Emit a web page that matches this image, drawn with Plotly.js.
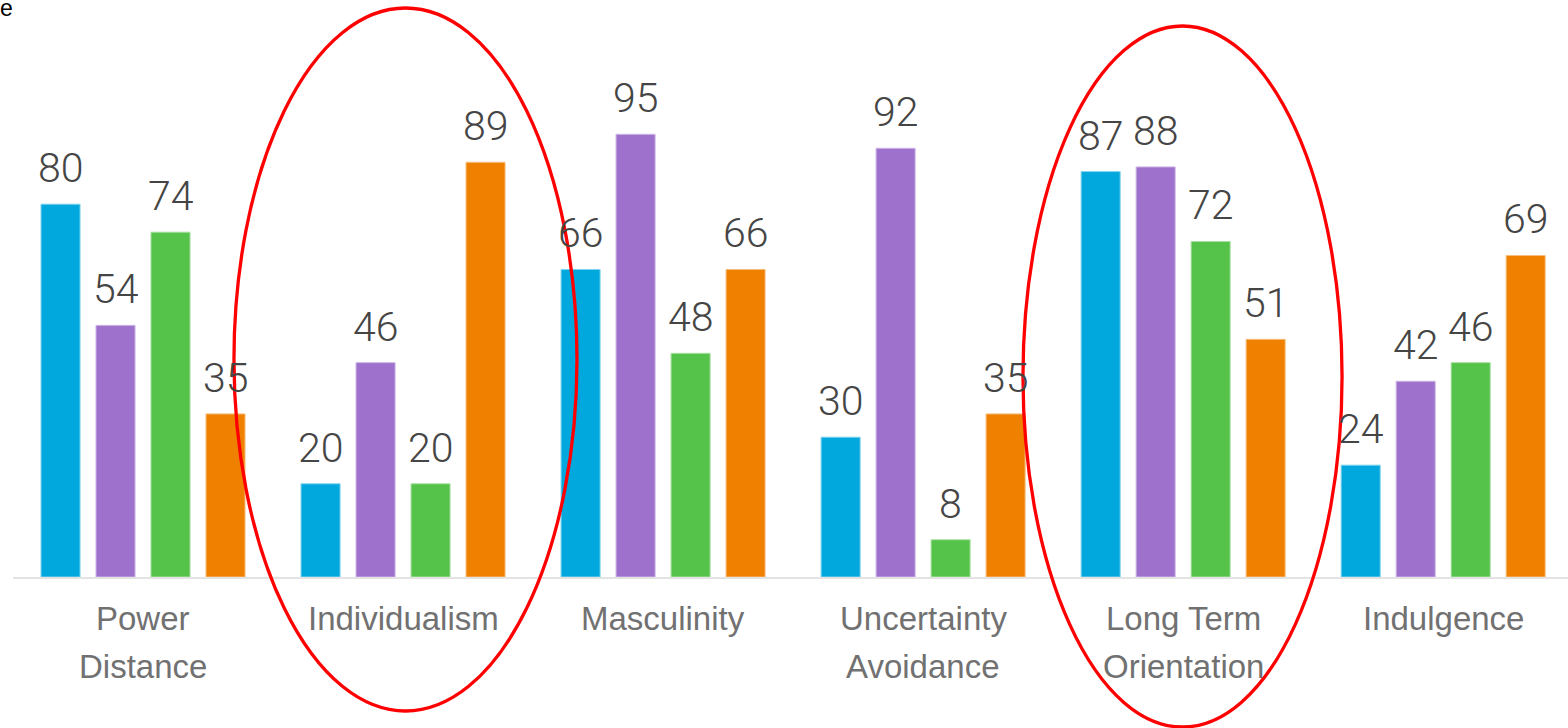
<!DOCTYPE html>
<html><head><meta charset="utf-8">
<script src="https://cdn.plot.ly/plotly-3.0.1.min.js"></script>
<style>html,body{margin:0;padding:0;background:#fff;}#chart{width:1568px;height:728px;}</style>
</head><body><div id="chart"></div>
<script>
const categories = ["Power Distance", "Individualism", "Masculinity", "Uncertainty Avoidance", "Long Term Orientation", "Indulgence"];
const categoryLines = [["Power", "Distance"], ["Individualism"], ["Masculinity"], ["Uncertainty", "Avoidance"], ["Long Term", "Orientation"], ["Indulgence"]];
const seriesNames = ["China", "Japan", "Singapore", "United Kingdom"];
const china = [80, 20, 66, 30, 87, 24];
const japan = [54, 46, 95, 92, 88, 42];
const singapore = [74, 20, 48, 8, 72, 46];
const uk = [35, 89, 66, 35, 51, 69];
const seriesValues = [china, japan, singapore, uk];
const colors = ["#00a8de", "#9e71cc", "#55c249", "#f08000"];
const edgeColors = ["#7fd3ee", "#cdb5e6", "#a8e0a2", "#f6bf7f"];

const traces = seriesValues.map((vals, i) => ({
  type: "bar",
  name: seriesNames[i],
  x: categories,
  y: vals,
  marker: {color: colors[i], line: {color: edgeColors[i], width: 1}},
  hoverinfo: "x+y+name"
}));

const annotations = [];
// value labels, offset per series slot
const slotPx = 55;
seriesValues.forEach((vals, i) => {
  vals.forEach((v, j) => {
    annotations.push({
      x: categories[j], y: v, xref: "x", yref: "y",
      text: String(v), showarrow: false,
      xanchor: "center", yanchor: "bottom",
      xshift: (i - 1.5) * slotPx, yshift: 10,
      font: {family: "Roboto, 'DejaVu Sans', sans-serif", size: 41, color: "#454545", weight: 300}
    });
  });
});
// category labels (one annotation per line to match the reference's line spacing)
categoryLines.forEach((lines, j) => {
  lines.forEach((line, k) => {
    annotations.push({
      x: categories[j], y: 0, xref: "x", yref: "paper",
      text: line, showarrow: false,
      xanchor: "center", yanchor: "middle",
      yshift: -41 - 48 * k,
      font: {family: "'Liberation Sans', Arial, sans-serif", size: 33, color: "#717171"}
    });
  });
});

const layout = {
  width: 1568, height: 728,
  margin: {l: 13, r: 0, t: 111, b: 151},
  paper_bgcolor: "#ffffff", plot_bgcolor: "#ffffff",
  showlegend: false,
  barmode: "group",
  bargap: 0.154,
  bargroupgap: 0.29,
  title: {text: "e", x: 0, xref: "container", xanchor: "left", y: 1, yref: "container", yanchor: "top",
          font: {family: "'Liberation Sans', Arial, sans-serif", size: 23, color: "#000"}, pad: {t: 0, l: 0}},
  xaxis: {
    type: "category", range: [-0.5, 5.48],
    showgrid: false, zeroline: false,
    showline: true, linecolor: "#e3e3e3", linewidth: 2,
    ticks: "", showticklabels: false,
    fixedrange: true
  },
  yaxis: {
    range: [0, 100], visible: false, showgrid: false, zeroline: false, fixedrange: true
  },
  annotations: annotations,
  shapes: [
    {type: "circle", xref: "paper", yref: "paper", x0: 0.1421, x1: 0.3627, y0: -0.2876, y1: 1.221,
     line: {color: "#ff0000", width: 3.3}, layer: "above"},
    {type: "circle", xref: "paper", yref: "paper", x0: 0.6495, x1: 0.8547, y0: -0.3219, y1: 1.1824,
     line: {color: "#ff0000", width: 3.3}, layer: "above"}
  ]
};

Plotly.newPlot("chart", traces, layout, {displayModeBar: false, staticPlot: true});
</script></body></html>
